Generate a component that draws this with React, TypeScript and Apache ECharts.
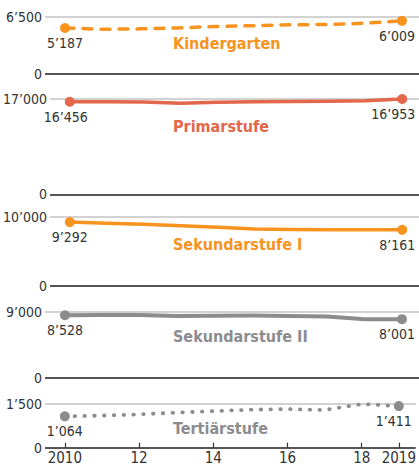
import React, { useEffect, useRef } from "react";
import * as echarts from "echarts";

const years = [2010, 2011, 2012, 2013, 2014, 2015, 2016, 2017, 2018, 2019];
const kindergarten = [5187, 5050, 5090, 5190, 5360, 5450, 5550, 5590, 5730, 6009];
const primarstufe = [16456, 16440, 16400, 16200, 16350, 16450, 16500, 16550, 16650, 16953];
const sekundarstufe1 = [9292, 9110, 8970, 8760, 8550, 8270, 8200, 8180, 8170, 8161];
const sekundarstufe2 = [8528, 8560, 8570, 8440, 8460, 8500, 8440, 8350, 8000, 8001];
const tertiaerstufe = [1064, 1090, 1130, 1190, 1240, 1290, 1310, 1280, 1480, 1411];

const panelNames = ["Kindergarten", "Primarstufe", "Sekundarstufe I", "Sekundarstufe II", "Tertiärstufe"];
const panelMax = [6500, 17000, 10000, 9000, 1500];
const xTickValues = [2010, 2012, 2014, 2016, 2018, 2019];

const FONT = "'Liberation Sans Narrow', 'DejaVu Sans Condensed', 'Roboto', sans-serif";
const ORANGE = "#F7931E";
const CORAL = "#E3674B";
const GRAY = "#8C8C8F";
const TEXT = "#333333";

const fmt = (v: number) => String(v).replace(/\B(?=(\d{3})+(?!\d))/g, "\u2019");

export default function App() {
  const ref = useRef<HTMLDivElement>(null);
  useEffect(() => {
    if (!ref.current) return;
    const chart = echarts.init(ref.current, null, { renderer: "svg" });

    const seriesValues = [kindergarten, primarstufe, sekundarstufe1, sekundarstufe2, tertiaerstufe];
    const colors = [ORANGE, CORAL, ORANGE, GRAY, GRAY];
    const lineTypes: any[] = [[9, 9], "solid", "solid", "solid", [0.5, 9.3]];
    const lineWidths = [3.5, 3.5, 3.5, 4, 3.8];
    const gridTops = [16.5, 98.7, 217.2, 311.8, 403.5];
    const gridHeights = [57, 95.6, 68.5, 66, 44.2];
    const nameY = [43, 126, 244, 336, 428];

    const grids = gridTops.map((t, i) => ({ left: 45, right: 0, top: t, height: gridHeights[i] }));

    const xAxes = grids.map((_, i) => {
      const last = i === grids.length - 1;
      return {
        type: "value",
        gridIndex: i,
        min: 2009.466,
        max: 2019.454,
        splitLine: { show: false },
        axisLine: { show: false },
        axisTick: {
          show: last,
          inside: true,
          length: 5,
          customValues: xTickValues,
          lineStyle: { color: TEXT, width: 1.2 },
        },
        axisLabel: {
          show: last,
          customValues: xTickValues,
          margin: 3,
          color: TEXT,
          fontSize: 15,
          fontFamily: FONT,
          formatter: (v: number) => (v === 2010 || v === 2019 ? String(v) : String(v).slice(2)),
        },
      };
    });

    const yAxes = grids.map((_, i) => ({
      type: "value",
      gridIndex: i,
      min: 0,
      max: panelMax[i],
      interval: panelMax[i],
      axisLine: { show: false },
      axisTick: { show: false },
      splitLine: { show: true, lineStyle: { color: ["#555555", "#D2D2D2"], width: 2 } },
      axisLabel: {
        margin: 3,
        color: TEXT,
        fontSize: 14,
        fontFamily: FONT,
        formatter: (v: number) => fmt(v),
      },
    }));

    const series = seriesValues.map((vals, i) => ({
      type: "line",
      xAxisIndex: i,
      yAxisIndex: i,
      showSymbol: true,
      symbol: "circle",
      symbolSize: 10,
      lineStyle: { color: colors[i], width: lineWidths[i], type: lineTypes[i], cap: "round", join: "round" },
      itemStyle: { color: colors[i] },
      silent: true,
      z: 5,
      data: vals.map((v, k) => {
        const end = k === 0 || k === vals.length - 1;
        return {
          value: [years[k], v],
          symbol: end ? "circle" : "none",
          symbolSize: 10,
          label: {
            show: end,
            position: "bottom",
            distance: 3,
            align: "right",
            offset: k === 0 ? [18, 0] : [13, 0],
            color: TEXT,
            fontSize: 14,
            fontFamily: FONT,
            formatter: () => fmt(v),
          },
        };
      }),
    }));

    const graphic = panelNames.map((n, i) => ({
      type: "text",
      x: 173,
      y: nameY[i],
      silent: true,
      style: {
        text: n,
        fill: colors[i],
        font: `bold 16px ${FONT}`,
        textAlign: "left",
        textVerticalAlign: "middle",
      },
    }));

    chart.setOption({
      animation: false,
      backgroundColor: "#ffffff",
      grid: grids,
      xAxis: xAxes,
      yAxis: yAxes,
      series,
      graphic,
    } as any);
    return () => chart.dispose();
  }, []);
  return <div ref={ref} style={{ position: "fixed", left: 0, top: 0, width: 419, height: 466 }} />;
}
